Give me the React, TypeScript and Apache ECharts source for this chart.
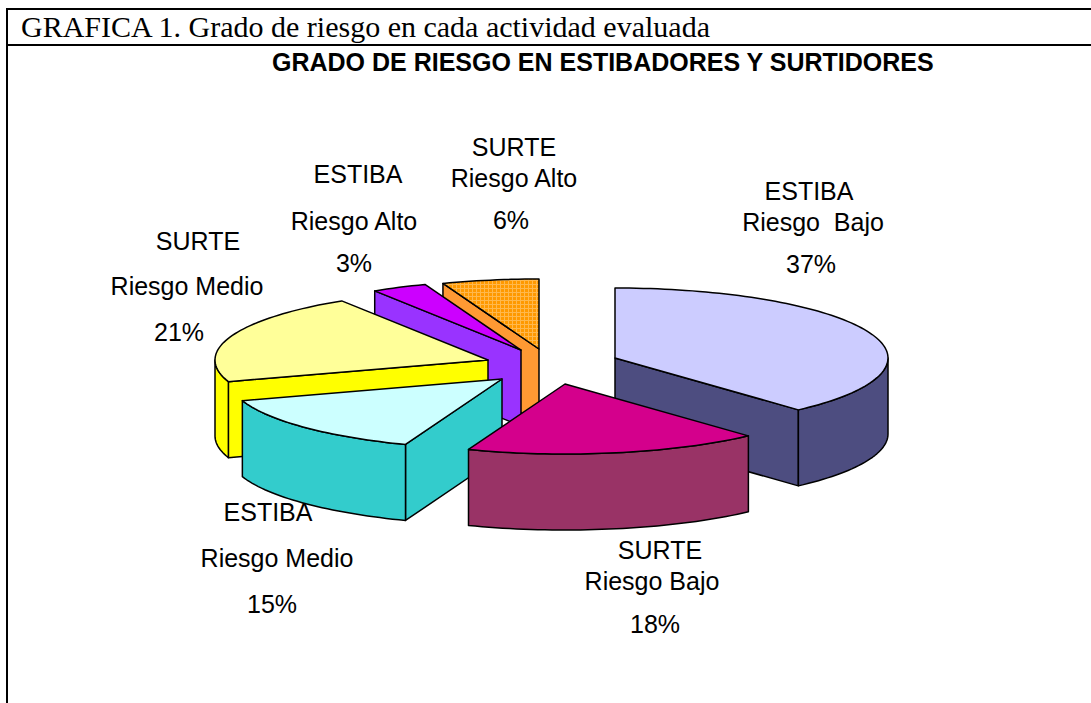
import React, { useEffect, useRef } from "react";
import * as echarts from "echarts";

const sliceNames = ["ESTIBA Riesgo Bajo", "SURTE Riesgo Bajo", "ESTIBA Riesgo Medio", "SURTE Riesgo Medio", "ESTIBA Riesgo Alto", "SURTE Riesgo Alto"];
const sliceValues = [37, 18, 15, 21, 3, 6];
const captionText = "GRAFICA 1. Grado de riesgo en cada actividad evaluada";
const titleText = "GRADO DE RIESGO EN ESTIBADORES Y SURTIDORES";
const labelLines = [
  ["ESTIBA", "Riesgo  Bajo", "37%"],
  ["SURTE", "Riesgo Bajo", "18%"],
  ["ESTIBA", "Riesgo Medio", "15%"],
  ["SURTE", "Riesgo Medio", "21%"],
  ["ESTIBA", "Riesgo Alto", "3%"],
  ["SURTE", "Riesgo Alto", "6%"],
];

// Layout and style of the exploded 3D pie
const RX = 273;
const RY = 70;
const DEPTH = 76;
const apexes = [[615, 358], [565, 384], [502, 379], [488, 360], [521, 350], [539, 349]];
const boundaryShift = [0, 4.6, 2.7, 0, 0, 1, 0]; // perspective distortion, degrees
const topColors = ["#ccccff", "#d4008c", "#ccffff", "#ffff99", "#cc00ff", "#ff9933"];
const sideColors = ["#4d4d80", "#993366", "#33cccc", "#ffff00", "#9933ff", "#ff9933"];
const paintOrder = [5, 4, 3, 0, 2, 1];
const labelAnchors = [
  [[809, 191], [813, 222], [811, 264]],
  [[660, 550], [652, 581], [655, 624]],
  [[268, 512], [277, 558], [272, 604]],
  [[198, 241], [187, 286], [179, 332]],
  [[358, 174], [354, 221], [354, 263]],
  [[514, 147], [514, 178], [511, 220]],
];

function dottedFill() {
  const c = document.createElement("canvas");
  c.width = 4;
  c.height = 4;
  const g = c.getContext("2d")!;
  g.fillStyle = "#ff9900";
  g.fillRect(0, 0, 4, 4);
  g.fillStyle = "#ffb84d";
  g.fillRect(0, 0, 4, 1);
  g.fillRect(0, 0, 1, 4);
  return c;
}

const total = sliceValues.reduce((a, b) => a + b, 0);
function boundaryAngle(k: number) {
  let sum = 0;
  for (let i = 0; i < k; i++) sum += sliceValues[i];
  return (sum / total) * 360 + boundaryShift[k];
}

function rim(i: number, deg: number, drop = 0) {
  const t = (deg * Math.PI) / 180;
  return [apexes[i][0] + RX * Math.sin(t), apexes[i][1] - RY * Math.cos(t) + drop];
}

function arcPoints(i: number, a: number, b: number, drop = 0) {
  const pts: number[][] = [];
  const n = Math.max(2, Math.ceil(Math.abs(b - a) / 1.5));
  for (let k = 0; k <= n; k++) pts.push(rim(i, a + ((b - a) * k) / n, drop));
  return pts;
}

export default function App() {
  const ref = useRef<HTMLDivElement>(null);
  useEffect(() => {
    document.body.style.margin = "0";
    document.body.style.overflow = "hidden";
    const chart = echarts.init(ref.current!, undefined, { renderer: "svg" });
    const pattern = dottedFill();
    const edge = { stroke: "#000", lineWidth: 1.5, lineJoin: "round" };

    const renderItem = (_p: any, api: any) => {
      const i = api.value(0);
      const a = boundaryAngle(i);
      const b = boundaryAngle(i + 1);
      const apex = apexes[i];
      const children: any[] = [];
      const face = (points: number[][], fill: any) =>
        children.push({ type: "polygon", shape: { points }, style: { fill, ...edge } });

      // radial walls: only those facing the viewer
      const wall = (deg: number) => {
        const p = rim(i, deg);
        face([apex, p, [p[0], p[1] + DEPTH], [apex[0], apex[1] + DEPTH]], sideColors[i]);
      };
      if (Math.sin((a * Math.PI) / 180) < -1e-6) wall(a);
      if (Math.sin((b * Math.PI) / 180) > 1e-6) wall(b);
      // outer curved wall: only the part facing the viewer
      const fa = Math.max(a, 90);
      const fb = Math.min(b, 270);
      if (fb > fa) {
        face([...arcPoints(i, fa, fb), ...arcPoints(i, fb, fa, DEPTH)], sideColors[i]);
      }
      // top face
      face([apex, ...arcPoints(i, a, b)], i === 5 ? { image: pattern, repeat: "repeat" } : topColors[i]);
      return { type: "group", children };
    };

    const labels: any[] = [];
    labelLines.forEach((lines, i) =>
      lines.forEach((text, j) =>
        labels.push({
          type: "text",
          z: 50,
          x: labelAnchors[i][j][0],
          y: labelAnchors[i][j][1],
          style: {
            text,
            fill: "#000",
            font: '25px "Liberation Sans", Arial, sans-serif',
            textAlign: "center",
            textVerticalAlign: "middle",
          },
        })
      )
    );

    const borderStyle = { stroke: "#000", lineWidth: 2 };
    chart.setOption({
      animation: false,
      backgroundColor: "#fff",
      title: {
        text: titleText,
        left: 272,
        top: 49,
        padding: 0,
        textStyle: { color: "#000", fontFamily: '"Liberation Sans", Arial, sans-serif', fontWeight: "bold", fontSize: 25 },
      },
      graphic: [
        { type: "line", shape: { x1: 6, y1: 9, x2: 1091, y2: 9 }, style: borderStyle },
        { type: "line", shape: { x1: 6, y1: 45, x2: 1091, y2: 45 }, style: borderStyle },
        { type: "line", shape: { x1: 7, y1: 8, x2: 7, y2: 703 }, style: borderStyle },
        {
          type: "text",
          x: 21,
          y: 26,
          style: {
            text: captionText,
            fill: "#000",
            font: '30px "Liberation Serif", "Times New Roman", serif',
            textAlign: "left",
            textVerticalAlign: "middle",
          },
        },
        ...labels,
      ],
      series: [
        {
          type: "custom",
          coordinateSystem: "none",
          silent: true,
          renderItem,
          data: paintOrder.map((i) => ({ name: sliceNames[i], value: [i, sliceValues[i]] })),
        },
      ],
    });
    return () => chart.dispose();
  }, []);
  return <div ref={ref} style={{ position: "absolute", left: 0, top: 0, width: 1091, height: 703 }} />;
}
